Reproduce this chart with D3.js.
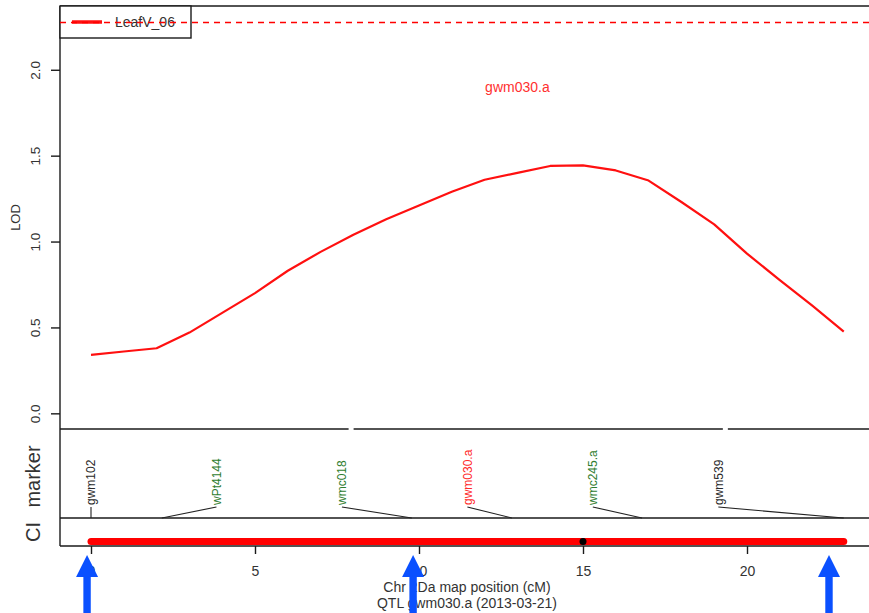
<!DOCTYPE html>
<html>
<head>
<meta charset="utf-8">
<script src="https://cdn.jsdelivr.net/npm/d3@7"></script>
<style>
  html, body { margin: 0; padding: 0; background: #fff; }
  svg { display: block; font-family: "Liberation Sans", Arial, sans-serif; }
</style>
</head>
<body>
<svg id="chart" width="869" height="613"></svg>
<script>
// LOD profile along chromosome 2Da
const positions = [0, 1, 2, 3, 4, 5, 6, 7, 8, 9, 10, 11, 12, 13, 14, 15, 16, 17, 18, 19, 20, 21, 22, 22.95];
const lodValues = [0.340, 0.360, 0.379, 0.470, 0.585, 0.700, 0.830, 0.940, 1.040, 1.130, 1.210, 1.290, 1.360, 1.400, 1.440, 1.443, 1.414, 1.355, 1.230, 1.100, 0.930, 0.775, 0.625, 0.476];
const threshold = 2.28;
const traitName = "LeafV_06";
const qtlName = "gwm030.a";

// Markers on the linkage map
const markerNames = ["gwm102", "wPt4144", "wmc018", "gwm030.a", "wmc245.a", "gwm539"];
const markerPos = [0, 2.16, 9.78, 12.83, 16.8, 22.95];
const markerType = ["plain", "linked", "linked", "qtl", "linked", "plain"];

// Confidence interval and peak
const ciRange = [0, 22.95];
const peakPos = 15;

// Highlighted positions
const arrowPos = [-0.12, 9.82, 22.5];

// Short breaks in the panel divider
const dividerBreaks = [7.93, 19.34];

const xTicks = [0, 5, 10, 15, 20];
const yTicks = [0, 0.5, 1, 1.5, 2];
const xTitle = "Chr 2Da map position (cM)";
const subTitle = "QTL gwm030.a (2013-03-21)";

const typeColor = { plain: "#2a2a2a", linked: "#2f7d2f", qtl: "#ff2a2a" };

const svg = d3.select("#chart");
const pLeft = 60, pRight = 880;
const pTop = 6, lodBottom = 429, markerBottom = 518, ciBottom = 546;
const axisColor = "#1a1a1a", textColor = "#333";

const x = d3.scaleLinear().domain([0, 20]).range([91, 747]);
const y = d3.scaleLinear().domain([-0.0912, 2.3712]).range([lodBottom, pTop]);

// Panel frame lines
const frame = svg.append("g").attr("stroke", axisColor).attr("stroke-width", 1.4).attr("fill", "none");
frame.append("line").attr("x1", pLeft).attr("x2", pRight).attr("y1", pTop).attr("y2", pTop);
frame.append("line").attr("x1", pLeft).attr("x2", pRight).attr("y1", lodBottom).attr("y2", lodBottom);
frame.append("line").attr("x1", pLeft).attr("x2", pRight).attr("y1", markerBottom).attr("y2", markerBottom);
frame.append("line").attr("x1", pLeft).attr("x2", pRight).attr("y1", ciBottom).attr("y2", ciBottom);
frame.append("line").attr("x1", pLeft).attr("x2", pLeft).attr("y1", pTop).attr("y2", ciBottom);

svg.append("g").selectAll("rect").data(dividerBreaks).join("rect")
  .attr("x", d => x(d) - 2.5).attr("y", lodBottom - 2).attr("width", 5).attr("height", 4)
  .attr("fill", "#fff");

// Y axis (LOD)
const yAxis = svg.append("g").attr("transform", `translate(${pLeft},0)`)
  .call(d3.axisLeft(y).tickValues(yTicks).tickSize(9).tickFormat(d3.format(".1f")));
yAxis.select(".domain").remove();
yAxis.selectAll(".tick line").attr("stroke", axisColor).attr("stroke-width", 1.4);
yAxis.selectAll(".tick text")
  .attr("fill", textColor).attr("font-size", 13.5).attr("font-family", "Liberation Sans, Arial, sans-serif")
  .attr("x", 0).attr("dy", 0).attr("text-anchor", "middle")
  .attr("transform", "translate(-20,0) rotate(-90)");

svg.append("text").attr("transform", `translate(20,${(pTop + lodBottom) / 2}) rotate(-90)`)
  .attr("text-anchor", "middle").attr("font-size", 13).attr("fill", textColor).text("LOD");

// Threshold
const thrY = Math.round(y(threshold)) + 0.5;
svg.append("line").attr("x1", pLeft).attr("x2", pRight)
  .attr("y1", thrY).attr("y2", thrY)
  .attr("stroke", "#ff0000").attr("stroke-width", 1.4).attr("stroke-dasharray", "6,5");

// LOD curve
const line = d3.line().x(d => x(d[0])).y(d => y(d[1]));
svg.append("path").datum(positions.map((p, i) => [p, lodValues[i]]))
  .attr("d", line).attr("fill", "none").attr("stroke", "#ff1010").attr("stroke-width", 2.2)
  .attr("stroke-linejoin", "round");

// QTL name
svg.append("text").attr("x", x(13.0)).attr("y", y(1.9)).attr("dy", "0.35em")
  .attr("text-anchor", "middle").attr("font-size", 14).attr("fill", "#ff3030").text(qtlName);

// Legend
const legend = svg.append("g");
legend.append("rect").attr("x", pLeft).attr("y", pTop).attr("width", 131).attr("height", 32)
  .attr("fill", "#fff").attr("stroke", axisColor).attr("stroke-width", 1.4);
legend.append("line").attr("x1", 72).attr("x2", 102).attr("y1", 22).attr("y2", 22)
  .attr("stroke", "#ff1010").attr("stroke-width", 3.5);
legend.append("text").attr("x", 115).attr("y", 22).attr("dy", "0.35em")
  .attr("font-size", 14).attr("fill", textColor).text(traitName);
// threshold crosses over the legend box
legend.append("line").attr("x1", pLeft).attr("x2", 191)
  .attr("y1", thrY).attr("y2", thrY)
  .attr("stroke", "#ff0000").attr("stroke-width", 1.4).attr("stroke-dasharray", "6,5");

// Marker panel
const span = ciRange[1] - ciRange[0];
const labelBottom = 506;
const mk = svg.append("g").selectAll("g").data(markerNames).join("g");
mk.append("path")
  .attr("d", (d, i) => {
    const lx = x(ciRange[0] + i * span / 6);
    return `M${lx},${labelBottom + 1}L${x(markerPos[i])},${markerBottom}`;
  })
  .attr("stroke", "#222").attr("stroke-width", 1.1).attr("fill", "none");
mk.append("text")
  .attr("transform", (d, i) => `translate(${x(ciRange[0] + i * span / 6)},${labelBottom - 1}) rotate(-90)`)
  .attr("dy", "0.35em").attr("text-anchor", "start").attr("font-size", 12)
  .attr("fill", (d, i) => typeColor[markerType[i]]).text(d => d);

svg.append("text").attr("transform", `translate(40,${(lodBottom + markerBottom) / 2 + 3}) rotate(-90)`)
  .attr("text-anchor", "middle").attr("font-size", 20).attr("fill", textColor).text("marker");
svg.append("text").attr("transform", `translate(40,${(markerBottom + ciBottom) / 2}) rotate(-90)`)
  .attr("text-anchor", "middle").attr("font-size", 20).attr("fill", textColor).text("CI");

// Confidence interval bar
const ciY = 541.5;
svg.append("line").attr("x1", x(ciRange[0])).attr("x2", x(ciRange[1]))
  .attr("y1", ciY).attr("y2", ciY)
  .attr("stroke", "#ff0000").attr("stroke-width", 7).attr("stroke-linecap", "round");
svg.append("circle").attr("cx", x(peakPos)).attr("cy", ciY).attr("r", 3.5).attr("fill", "#000");

// X axis
const xAxis = svg.append("g").attr("transform", `translate(0,${ciBottom})`)
  .call(d3.axisBottom(x).tickValues(xTicks).tickSize(8).tickFormat(d3.format("d")));
xAxis.select(".domain").remove();
xAxis.selectAll(".tick line").attr("stroke", axisColor).attr("stroke-width", 1.4);
xAxis.selectAll(".tick text").attr("fill", textColor).attr("font-size", 14)
  .attr("font-family", "Liberation Sans, Arial, sans-serif").attr("y", 25).attr("dy", "0.35em");

svg.append("text").attr("x", 467).attr("y", 587).attr("dy", "0.35em")
  .attr("text-anchor", "middle").attr("font-size", 14).attr("fill", textColor).text(xTitle);
svg.append("text").attr("x", 467).attr("y", 603).attr("dy", "0.35em")
  .attr("text-anchor", "middle").attr("font-size", 14).attr("fill", textColor).text(subTitle);

// Arrows
svg.append("g").selectAll("path").data(arrowPos).join("path")
  .attr("d", d => {
    const c = x(d), tip = 555, base = 577, hw = 11, sw = 3.7, end = 620;
    return `M${c},${tip}L${c + hw},${base}L${c + sw},${base}L${c + sw},${end}L${c - sw},${end}L${c - sw},${base}L${c - hw},${base}Z`;
  })
  .attr("fill", "#0a50ff");
</script>
</body>
</html>
